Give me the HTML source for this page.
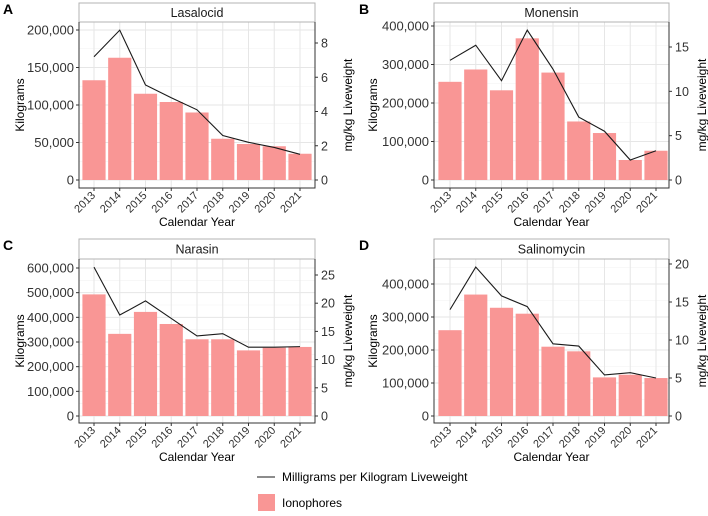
<!DOCTYPE html>
<html><head><meta charset="utf-8"><style>
body{margin:0;background:#fff;font-family:"Liberation Sans",Arial,sans-serif}
svg text{font-family:"Liberation Sans",Arial,sans-serif}
</style></head><body>
<svg id="chart" width="708" height="511" xmlns="http://www.w3.org/2000/svg"></svg>
<script>
const years = ["2013","2014","2015","2016","2017","2018","2019","2020","2021"];
const lasalocidKg = [133000,163000,115000,104000,90000,55000,48000,45000,35000];
const lasalocidMg = [7.2,8.75,5.55,4.8,4.1,2.6,2.2,1.9,1.5];
const monensinKg = [255000,287000,233000,368000,279000,152000,122000,52000,76000];
const monensinMg = [13.5,15.2,11.2,16.9,12.5,7.1,5.5,2.25,3.3];
const narasinKg = [493000,333000,422000,373000,311000,311000,266000,277000,280000];
const narasinMg = [26.4,17.9,20.4,17.3,14.2,14.6,12.2,12.2,12.3];
const salinoKg = [260000,368000,328000,310000,210000,196000,117000,125000,115000];
const salinoMg = [14,19.6,15.8,14.4,9.5,9.2,5.4,5.7,5.0];
const kgTicksA = [0,50000,100000,150000,200000];
const mgTicksA = [0,2,4,6,8];
const kgTicksB = [0,100000,200000,300000,400000];
const mgTicksB = [0,5,10,15];
const kgTicksC = [0,100000,200000,300000,400000,500000,600000];
const mgTicksC = [0,5,10,15,20,25];
const kgTicksD = [0,100000,200000,300000,400000];
const mgTicksD = [0,5,10,15,20];

const NS="http://www.w3.org/2000/svg";
const svg=document.getElementById('chart');
function mk(tag,attrs,parent){const e=document.createElementNS(NS,tag);for(const k in attrs)e.setAttribute(k,attrs[k]);(parent||svg).appendChild(e);return e;}
function fmt(v){return v.toLocaleString('en-US');}

function panel(cfg){
  const g=mk('g',{});
  
  
  const L=cfg.left,R=cfg.right,T=cfg.top,B=cfg.bottom;
  const step=(cfg.x9-cfg.x1)/8;
  const xs=i=>cfg.x1+i*step;
  const yk=v=>cfg.zeroY-v*cfg.kgPx;
  const ym=v=>cfg.zeroY-v*cfg.mgPx;
  const strip=mk('rect',{x:L,y:cfg.stripTop,width:R-L,height:T-cfg.stripTop,fill:'#fff',stroke:'#b3b3b3','stroke-width':1},g);
  
  
  const st=mk('text',{x:(L+R)/2,y:(cfg.stripTop+T)/2+4.5,'text-anchor':'middle','font-size':12.5,fill:'#1a1a1a'},g);
  st.textContent=cfg.title;
  
  
  const lt=mk('text',{x:cfg.letterX,y:cfg.stripTop+11,'font-size':14,'font-weight':'bold',fill:'#000'},g);
  lt.textContent=cfg.letter;
  
  
  const tk=cfg.kgTicks, d=tk[1]-tk[0];
  for(let v=tk[0]+d/2; yk(v)>T; v+=d){
    const l=mk('line',{x1:L,x2:R,y1:yk(v),y2:yk(v),stroke:'#f2f2f2','stroke-width':0.6},g);
    
  }
  tk.forEach(v=>{
    const l=mk('line',{x1:L,x2:R,y1:yk(v),y2:yk(v),stroke:'#e6e6e6','stroke-width':1},g);
    
  });
  years.forEach((y,i)=>{
    const l=mk('line',{x1:xs(i),x2:xs(i),y1:T,y2:B,stroke:'#e6e6e6','stroke-width':1},g);
    
  });
  const bw=step*0.9;
  cfg.kg.forEach((v,i)=>{
    const r=mk('rect',{x:xs(i)-bw/2,y:yk(v),width:bw,height:cfg.zeroY-yk(v),fill:'#f99695'},g);
    
    
  });
  const pts=cfg.mg.map((v,i)=>xs(i)+','+ym(v)).join(' ');
  const pl=mk('polyline',{points:pts,fill:'none',stroke:'#1a1a1a','stroke-width':1.1},g);
  
  
  const bd=mk('rect',{x:L,y:T,width:R-L,height:B-T,fill:'none',stroke:'#b3b3b3','stroke-width':1},g);
  
  const axl=mk('path',{d:`M${L},${T}V${B}H${R}V${T}`,fill:'none',stroke:'#333','stroke-width':1},g);
  
  tk.forEach(v=>{
    mk('line',{x1:L-3,x2:L,y1:yk(v),y2:yk(v),stroke:'#333'},g);
    const t=mk('text',{x:L-5,y:yk(v)+4.5,'text-anchor':'end','font-size':13,fill:'#333'},g);
    t.textContent=fmt(v);
    
  });
  cfg.mgTicks.forEach(v=>{
    mk('line',{x1:R,x2:R+3,y1:ym(v),y2:ym(v),stroke:'#333'},g);
    const t=mk('text',{x:R+6,y:ym(v)+4.5,'font-size':12.5,fill:'#333'},g);
    t.textContent=v;
    
  });
  years.forEach((y,i)=>{
    mk('line',{x1:xs(i),x2:xs(i),y1:B,y2:B+3,stroke:'#333'},g);
    const tx=xs(i)+2, ty=B+8;
    const t=mk('text',{x:tx,y:ty,'text-anchor':'end','font-size':11,fill:'#333',transform:`rotate(-45 ${tx} ${ty})`},g);
    t.textContent=y;
    
  });
  const xt=mk('text',{x:(L+R)/2,y:B+38,'text-anchor':'middle','font-size':12,fill:'#000'},g);
  xt.textContent='Calendar Year';
  
  const cy=(T+B)/2;
  const yt=mk('text',{x:cfg.ytX,y:cy,'text-anchor':'middle','font-size':12,fill:'#000',transform:`rotate(-90 ${cfg.ytX} ${cy})`},g);
  yt.textContent='Kilograms';
  
  const y2x=R+37;
  const y2=mk('text',{x:y2x,y:cy,'text-anchor':'middle','font-size':12,fill:'#000',transform:`rotate(-90 ${y2x} ${cy})`},g);
  y2.textContent='mg/kg Liveweight';
  
}
panel({title:'Lasalocid',letter:'A',letterX:3,left:79,right:315,stripTop:3,top:22,bottom:188,zeroY:180,x1:94,x9:300,kgPx:150/200000,mgPx:137/8,kg:lasalocidKg,mg:lasalocidMg,kgTicks:kgTicksA,mgTicks:mgTicksA,ytX:24});
panel({title:'Monensin',letter:'B',letterX:359,left:434,right:669,stripTop:3,top:22,bottom:188,zeroY:180,x1:450,x9:656,kgPx:154/400000,mgPx:133/15,kg:monensinKg,mg:monensinMg,kgTicks:kgTicksB,mgTicks:mgTicksB,ytX:377});
panel({title:'Narasin',letter:'C',letterX:3,left:79,right:315,stripTop:239,top:259,bottom:423,zeroY:416,x1:94,x9:300,kgPx:148/600000,mgPx:141/25,kg:narasinKg,mg:narasinMg,kgTicks:kgTicksC,mgTicks:mgTicksC,ytX:24});
panel({title:'Salinomycin',letter:'D',letterX:359,left:434,right:669,stripTop:239,top:259,bottom:423,zeroY:416,x1:450,x9:656,kgPx:132/400000,mgPx:152/20,kg:salinoKg,mg:salinoMg,kgTicks:kgTicksD,mgTicks:mgTicksD,ytX:377});
const l1=mk('line',{x1:257,x2:275,y1:477,y2:477,stroke:'#1a1a1a','stroke-width':1.1});

const t1=mk('text',{x:282,y:481,'font-size':12,fill:'#000'});t1.textContent='Milligrams per Kilogram Liveweight';

const r2=mk('rect',{x:258,y:494,width:17,height:17,fill:'#f99695'});

const t2=mk('text',{x:282,y:507,'font-size':12,fill:'#000'});t2.textContent='Ionophores';

</script>
</body></html>
